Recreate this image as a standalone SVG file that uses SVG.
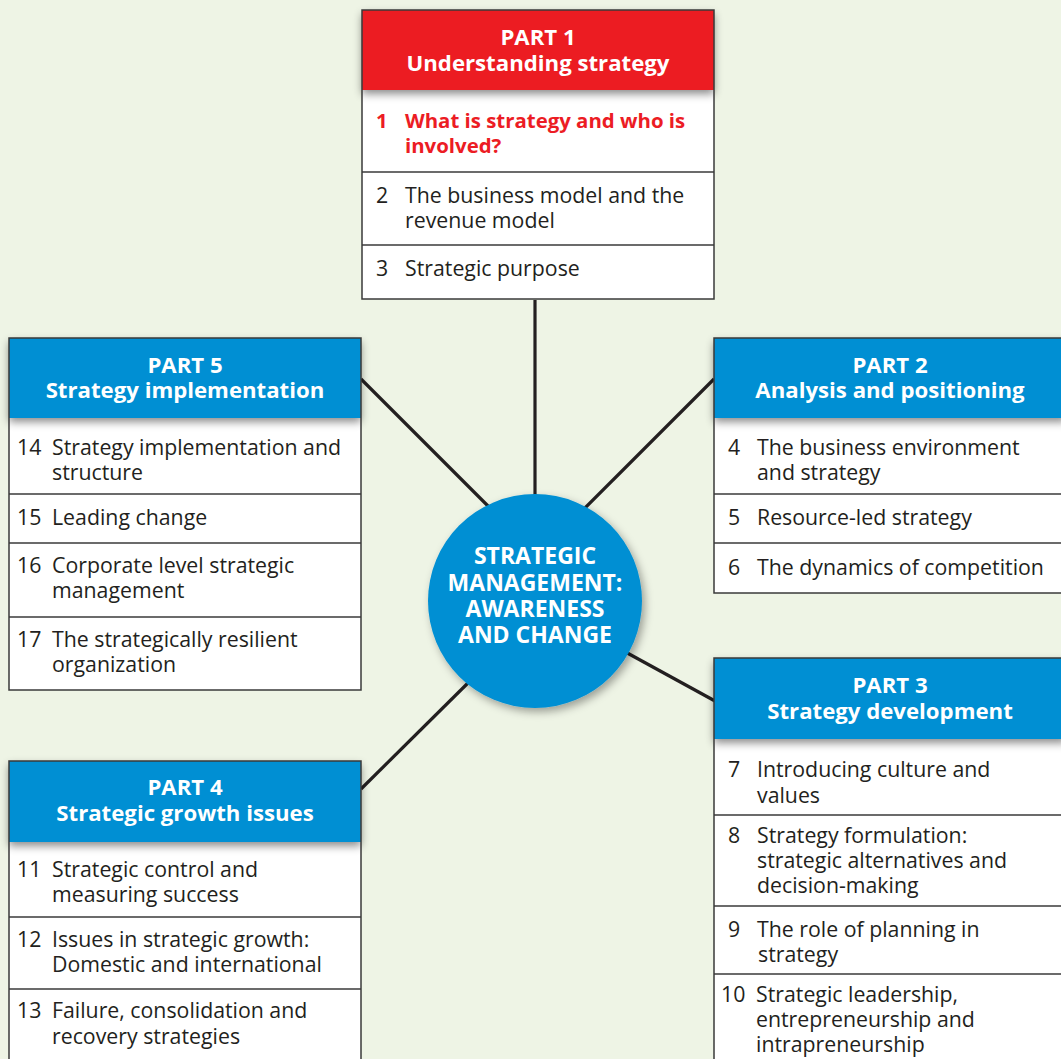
<svg xmlns="http://www.w3.org/2000/svg" width="1061" height="1059" viewBox="0 0 1061 1059">
<defs>
<filter id="hsh" x="-10%" y="-20%" width="120%" height="160%">
<feDropShadow dx="0" dy="4" stdDeviation="4" flood-color="#000" flood-opacity="0.45"/>
</filter>
<filter id="csh" x="-20%" y="-20%" width="140%" height="140%">
<feDropShadow dx="3" dy="4" stdDeviation="4" flood-color="#000" flood-opacity="0.35"/>
</filter>
<style>
.bg{fill:#eef4e5}
.box{fill:#ffffff}
.frame{fill:none;stroke:#3a3a3a;stroke-width:1.5}
.sep{stroke:#3a3a3a;stroke-width:1.5}
.hb{fill:#008fd3}
.hr{fill:#ec1c24}
.ht{font-family:"Open Sans","Noto Sans",sans-serif;font-weight:bold;font-size:22.2px;fill:#ffffff;text-anchor:middle}
.t{font-family:"Open Sans","Noto Sans",sans-serif;font-size:21.3px;fill:#231f20}
.tr{font-family:"Open Sans","Noto Sans",sans-serif;font-size:20.4px;fill:#ec1c24;font-weight:bold}
.conn{stroke:#231f20;stroke-width:3.2;fill:none}
.ct{font-family:"Open Sans","Noto Sans",sans-serif;font-weight:bold;font-size:23px;fill:#ffffff;text-anchor:middle}
</style>
</defs>
<rect class="bg" x="0" y="0" width="1061" height="1059"/>

<g id="connectors">
<line class="conn" x1="535" y1="300" x2="535" y2="500"/>
<line class="conn" x1="361" y1="379" x2="490" y2="508"/>
<line class="conn" x1="714" y1="379" x2="583" y2="510"/>
<line class="conn" x1="620" y1="649" x2="715" y2="701"/>
<line class="conn" x1="472" y1="679" x2="361" y2="789"/>
</g>

<g id="center">
<circle cx="535" cy="601" r="107" fill="#008fd3" filter="url(#csh)"/>
<text class="ct"><tspan x="535" y="564">STRATEGIC</tspan><tspan x="535" y="591">MANAGEMENT:</tspan><tspan x="535" y="617">AWARENESS</tspan><tspan x="535" y="643">AND CHANGE</tspan></text>
</g>

<g id="part1">
<rect class="box" x="362" y="10" width="352" height="289"/>
<rect class="hr" x="362" y="10" width="352" height="80" filter="url(#hsh)"/>
<text class="ht"><tspan x="538" y="45">PART 1</tspan><tspan x="538" y="71">Understanding strategy</tspan></text>
<line class="sep" x1="362" y1="172" x2="714" y2="172"/>
<line class="sep" x1="362" y1="245" x2="714" y2="245"/>
<text class="tr" x="376" y="128">1</text>
<text class="tr"><tspan x="405" y="128">What is strategy and who is</tspan><tspan x="405" y="153">involved?</tspan></text>
<text class="t" x="376" y="203">2</text>
<text class="t"><tspan x="405" y="203">The business model and the</tspan><tspan x="405" y="228">revenue model</tspan></text>
<text class="t" x="376" y="276">3</text>
<text class="t" x="405" y="276">Strategic purpose</text>
<rect class="frame" x="362" y="10" width="352" height="289"/>
</g>

<g id="part5">
<rect class="box" x="9" y="338" width="352" height="352"/>
<rect class="hb" x="9" y="338" width="352" height="80" filter="url(#hsh)"/>
<text class="ht"><tspan x="185" y="373">PART 5</tspan><tspan x="185" y="398">Strategy implementation</tspan></text>
<line class="sep" x1="9" y1="494" x2="361" y2="494"/>
<line class="sep" x1="9" y1="543" x2="361" y2="543"/>
<line class="sep" x1="9" y1="617" x2="361" y2="617"/>
<text class="t" x="17" y="455">14</text>
<text class="t"><tspan x="52" y="455">Strategy implementation and</tspan><tspan x="52" y="480">structure</tspan></text>
<text class="t" x="17" y="525">15</text>
<text class="t" x="52" y="525">Leading change</text>
<text class="t" x="17" y="573">16</text>
<text class="t"><tspan x="52" y="573">Corporate level strategic</tspan><tspan x="52" y="598">management</tspan></text>
<text class="t" x="17" y="647">17</text>
<text class="t"><tspan x="52" y="647">The strategically resilient</tspan><tspan x="52" y="672">organization</tspan></text>
<rect class="frame" x="9" y="338" width="352" height="352"/>
</g>

<g id="part2">
<rect class="box" x="714" y="338" width="352" height="255"/>
<rect class="hb" x="714" y="338" width="352" height="80" filter="url(#hsh)"/>
<text class="ht"><tspan x="890" y="373">PART 2</tspan><tspan x="890" y="398">Analysis and positioning</tspan></text>
<line class="sep" x1="714" y1="494" x2="1066" y2="494"/>
<line class="sep" x1="714" y1="543" x2="1066" y2="543"/>
<text class="t" x="728" y="455">4</text>
<text class="t"><tspan x="757" y="455">The business environment</tspan><tspan x="757" y="480">and strategy</tspan></text>
<text class="t" x="728" y="525">5</text>
<text class="t" x="757" y="525">Resource-led strategy</text>
<text class="t" x="728" y="575">6</text>
<text class="t" x="757" y="575">The dynamics of competition</text>
<rect class="frame" x="714" y="338" width="352" height="255"/>
</g>

<g id="part3">
<rect class="box" x="714" y="658" width="352" height="420"/>
<rect class="hb" x="714" y="658" width="352" height="81" filter="url(#hsh)"/>
<text class="ht"><tspan x="890" y="693">PART 3</tspan><tspan x="890" y="719">Strategy development</tspan></text>
<line class="sep" x1="714" y1="815" x2="1066" y2="815"/>
<line class="sep" x1="714" y1="906" x2="1066" y2="906"/>
<line class="sep" x1="714" y1="974" x2="1066" y2="974"/>
<text class="t" x="728" y="777">7</text>
<text class="t"><tspan x="757" y="777">Introducing culture and</tspan><tspan x="757" y="803">values</tspan></text>
<text class="t" x="728" y="843">8</text>
<text class="t"><tspan x="757" y="843">Strategy formulation:</tspan><tspan x="757" y="868">strategic alternatives and</tspan><tspan x="757" y="893">decision-making</tspan></text>
<text class="t" x="728" y="937">9</text>
<text class="t"><tspan x="757" y="937">The role of planning in</tspan><tspan x="758" y="962">strategy</tspan></text>
<text class="t" x="721" y="1002">10</text>
<text class="t"><tspan x="756" y="1002">Strategic leadership,</tspan><tspan x="756" y="1027">entrepreneurship and</tspan><tspan x="756" y="1052">intrapreneurship</tspan></text>
<rect class="frame" x="714" y="658" width="352" height="420"/>
</g>

<g id="part4">
<rect class="box" x="9" y="761" width="352" height="320"/>
<rect class="hb" x="9" y="761" width="352" height="81" filter="url(#hsh)"/>
<text class="ht"><tspan x="185" y="795">PART 4</tspan><tspan x="185" y="821">Strategic growth issues</tspan></text>
<line class="sep" x1="9" y1="917" x2="361" y2="917"/>
<line class="sep" x1="9" y1="989" x2="361" y2="989"/>
<text class="t" x="17" y="877">11</text>
<text class="t"><tspan x="52" y="877">Strategic control and</tspan><tspan x="52" y="902">measuring success</tspan></text>
<text class="t" x="17" y="947">12</text>
<text class="t"><tspan x="52" y="947">Issues in strategic growth:</tspan><tspan x="52" y="972">Domestic and international</tspan></text>
<text class="t" x="17" y="1018">13</text>
<text class="t"><tspan x="52" y="1018">Failure, consolidation and</tspan><tspan x="52" y="1044">recovery strategies</tspan></text>
<rect class="frame" x="9" y="761" width="352" height="320"/>
</g>
</svg>
